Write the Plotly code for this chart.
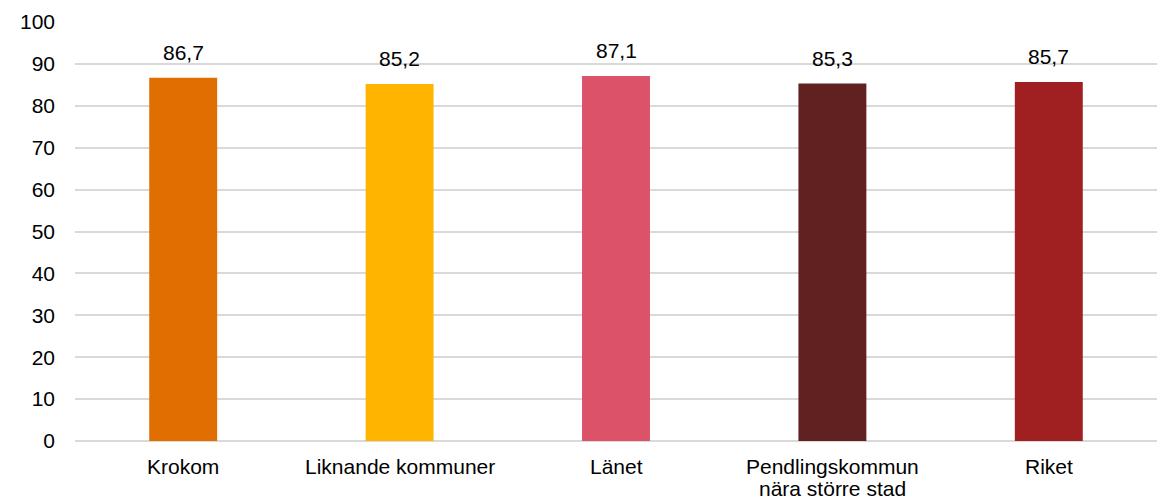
import plotly.graph_objects as go

categories = ["Krokom", "Liknande kommuner", "Länet", "Pendlingskommun<br>nära större stad", "Riket"]
values = [86.7, 85.2, 87.1, 85.3, 85.7]
colors = ["#E06E00", "#FFB500", "#DC5369", "#612121", "#A01F21"]
y_ticks = [0, 10, 20, 30, 40, 50, 60, 70, 80, 90, 100]

FONT = "Liberation Sans, Arial, sans-serif"
FS = 21

fig = go.Figure()
fig.add_trace(go.Bar(
    x=categories, y=values, marker=dict(color=colors, line=dict(width=0)),
    hoverinfo="skip",
))

# value labels
for c, v in zip(categories, values):
    fig.add_annotation(
        x=c, y=v, text=f"{v:.1f}".replace(".", ","), showarrow=False,
        yanchor="bottom", yshift=12,
        font=dict(family=FONT, size=FS, color="#000000"),
    )

# category labels (one annotation per line for tighter line spacing)
for c in categories:
    for i, line in enumerate(c.split("<br>")):
        fig.add_annotation(
            x=c, y=0, text=line, showarrow=False,
            yanchor="top", yshift=-12 - i * 22,
            font=dict(family=FONT, size=FS, color="#000000"),
        )

fig.update_layout(
    width=1167, height=502,
    margin=dict(l=75, r=10, t=18, b=61),
    paper_bgcolor="white", plot_bgcolor="white",
    bargap=0.686,
    showlegend=False,
    font=dict(family=FONT, size=FS, color="#000000"),
)
fig.update_yaxes(
    range=[0, 100], tickvals=y_ticks, ticktext=[str(t) for t in y_ticks],
    showgrid=True, gridcolor="#D9D9D9", gridwidth=1.5,
    zeroline=True, zerolinecolor="#D9D9D9", zerolinewidth=1.5,
    showline=False, ticks="", ticklabelstandoff=19,
    tickfont=dict(size=FS),
)
fig.update_xaxes(
    showgrid=False, showline=False, ticks="", showticklabels=False,
)

fig.write_html("out.html")
